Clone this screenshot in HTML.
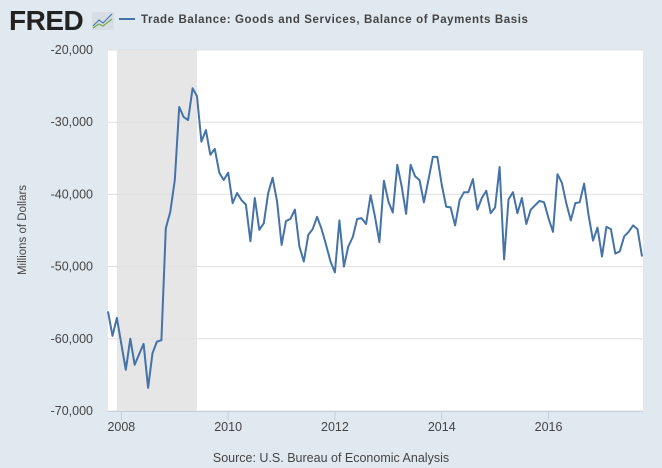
<!DOCTYPE html>
<html><head><meta charset="utf-8"><style>
body{margin:0;background:#e1e9f0;width:662px;height:468px;overflow:hidden;font-family:"Liberation Sans",sans-serif}
</style></head><body>
<svg width="662" height="468" style="position:absolute;left:0;top:0">
<text x="9" y="30" font-size="28" font-weight="bold" fill="#222" letter-spacing="-0.5">FRED</text>
<g><rect x="92" y="12" width="22" height="18" rx="2" fill="#d6dde3"/><polyline points="93,26 99,20 103,23 112,14" fill="none" stroke="#4a78b5" stroke-width="1.2"/><polyline points="93,28 99,24 103,26 112,19" fill="none" stroke="#7aa64a" stroke-width="1.2"/></g>
<line x1="119" y1="19" x2="135" y2="19" stroke="#4572a7" stroke-width="2"/>
<text x="141" y="23" font-size="11.5" font-weight="bold" fill="#444" letter-spacing="0.6">Trade Balance: Goods and Services, Balance of Payments Basis</text>
<rect x="108" y="50" width="535" height="361" fill="#fff"/>
<g id="rec"></g><g id="grid"></g><g id="xaxis"></g><g id="yaxis"></g>
<path id="line" fill="none" stroke="#4572a7" stroke-width="2" stroke-linejoin="round"/>
<text transform="translate(26,230) rotate(-90)" text-anchor="middle" font-size="11.5" fill="#444">Millions of Dollars</text>
<text x="331" y="462" text-anchor="middle" font-size="12.5" fill="#444">Source: U.S. Bureau of Economic Analysis</text>
</svg>
<script>
const values=[-56200,-59600,-57100,-60700,-64300,-60000,-63600,-62100,-60700,-66800,-62000,-60400,-60200,-44700,-42400,-38000,-27900,-29300,-29700,-25300,-26400,-32700,-31100,-34500,-33700,-37000,-38000,-37000,-41200,-39800,-40800,-41400,-46500,-40500,-44900,-44000,-39800,-37700,-41000,-47000,-43700,-43400,
-42100,-47200,-49300,-45600,-44800,-43100,-44800,-47000,-49300,-50800,-43600,-50000,-47200,-45900,-43400,-43300,-44100,-40100,-43100,-46600,-38100,-41000,-42500,-35900,-38900,-42700,-35900,-37500,-38000,-41100,-38000,-34800,-34800,-38700,-41700,-41800,-44300,-40800,-39700,-39700,
-37900,-42100,-40500,-39500,-42600,-41800,-36200,-49000,-40700,-39700,-42600,-40500,-44100,-42100,-41500,-40900,-41100,-43300,-45200,-37200,-38400,-41300,-43600,-41200,-41100,-38500,-42900,-46400,-44600,-48600,-44500,-44800,-48200,-47900,-45800,-45200,-44300,-44800,-48600];
const yTicks=[-20000,-30000,-40000,-50000,-60000,-70000];
const yTickLabels=["-20,000","-30,000","-40,000","-50,000","-60,000","-70,000"];
const xTickIndex=[3,27,51,75,99];
const xTickLabels=["2008","2010","2012","2014","2016"];
const recession=[2,20];
const ns="http://www.w3.org/2000/svg";
const X0=108,X1=642,Y0=50,Y1=411;
const x=i=>X0+i*(X1-X0)/(values.length-1);
const y=v=>Y0+(-20000-v)/50000*(Y1-Y0);
function mk(t,a,p){const e=document.createElementNS(ns,t);for(const k in a)e.setAttribute(k,a[k]);document.getElementById(p).appendChild(e);return e;}
const r=mk('rect',{x:x(recession[0]),y:Y0,width:x(recession[1])-x(recession[0]),height:Y1-Y0,fill:'#e6e6e6'},'rec');


yTicks.forEach((v,k)=>{
 const g=mk('line',{x1:X0,x2:643,y1:y(v),y2:y(v),stroke:'#e0e0e0','stroke-width':1},'grid');
 
 
 const t=mk('text',{x:93,y:y(v)+4,'text-anchor':'end','font-size':12.5,fill:'#444'},'yaxis');
 t.textContent=yTickLabels[k];
 
 
});
const ax=mk('line',{x1:X0,x2:643,y1:411.5,y2:411.5,stroke:'#c0d0e0'},'xaxis');


xTickIndex.forEach((i,k)=>{
 const tk=mk('line',{x1:x(i),x2:x(i),y1:411,y2:420,stroke:'#c0d0e0'},'xaxis');
 
 
 const t=mk('text',{x:x(i),y:431,'text-anchor':'middle','font-size':12.5,fill:'#444'},'xaxis');
 t.textContent=xTickLabels[k];
 
 
});
document.getElementById('line').setAttribute('d',values.map((v,i)=>(i?'L':'M')+x(i).toFixed(1)+','+y(v).toFixed(1)).join(''));
</script>
</body></html>
